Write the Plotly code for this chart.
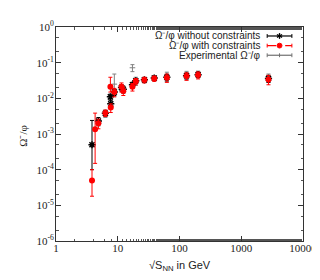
import plotly.graph_objects as go

# ---- data ----
e_black = [3.83, 4.86, 6.3, 7.6, 7.7, 8.8, 11.5, 12.3, 17.3, 19.6, 27, 39, 62.4, 130, 200, 2760]
v_black = [5e-4, 2.3e-3, 3.8e-3, 0.011, 0.007, 0.015, 0.020, 0.018, 0.024, 0.031, 0.033, 0.037, 0.039, 0.043, 0.046, 0.036]
up_black = [1.9e-3, 6e-4, 8e-4, 2e-3, 1.5e-3, 3e-3, 4e-3, 4e-3, 4e-3, 5e-3, 5e-3, 5e-3, 8e-3, 8e-3, 8e-3, 8e-3]
dn_black = [4e-4, 6e-4, 8e-4, 2e-3, 1.5e-3, 3e-3, 4e-3, 4e-3, 4e-3, 5e-3, 5e-3, 5e-3, 8e-3, 8e-3, 8e-3, 8e-3]

e_red = [3.83, 4.3, 4.86, 6.3, 7.6, 7.7, 8.8, 11.5, 12.3, 17.3, 19.6, 27, 39, 62.4, 130, 200, 2760]
v_red = [5e-5, 1.35e-3, 2.0e-3, 3.9e-3, 0.021, 0.0055, 0.015, 0.021, 0.016, 0.021, 0.030, 0.033, 0.036, 0.038, 0.042, 0.045, 0.034]
up_red = [5e-5, 2.5e-3, 6e-4, 8e-4, 0.018, 1.5e-3, 4e-3, 6e-3, 4e-3, 5e-3, 6e-3, 6e-3, 6e-3, 1e-2, 1e-2, 1e-2, 1e-2]
dn_red = [3.2e-5, 1.2e-3, 6e-4, 8e-4, 6e-3, 1.5e-3, 4e-3, 6e-3, 4e-3, 5e-3, 6e-3, 6e-3, 6e-3, 1e-2, 1e-2, 1e-2, 1e-2]

e_exp = [8.8, 17.3, 19.6, 39, 62.4, 130, 200, 2760]
v_exp = [0.025, 0.072, 0.031, 0.037, 0.042, 0.045, 0.048, 0.038]
up_exp = [0.023, 0.016, 8e-3, 6e-3, 1.2e-2, 1.2e-2, 1e-2, 1e-2]
dn_exp = [0.0135, 0.016, 8e-3, 6e-3, 1.2e-2, 1.2e-2, 1e-2, 1e-2]

x_tickvals = [1, 10, 100, 1000, 10000]
x_ticktext = ["1", "10", "100", "1000", "10000"]
y_tickvals = [1e-6, 1e-5, 1e-4, 1e-3, 1e-2, 1e-1, 1]
y_ticktext = ["10<sup>-6</sup>", "10<sup>-5</sup>", "10<sup>-4</sup>", "10<sup>-3</sup>",
              "10<sup>-2</sup>", "10<sup>-1</sup>", "10<sup>0</sup>"]

legend_labels = ["Ω⁻/φ without constraints", "Ω⁻/φ with constraints",
                 "Experimental Ω⁻/φ"]

fig = go.Figure()

fig.add_trace(go.Scatter(
    x=e_exp, y=v_exp, mode="markers",
    marker=dict(symbol="line-ew", size=4, color="#808080", line=dict(color="#808080", width=1)),
    error_y=dict(type="data", symmetric=False, array=up_exp, arrayminus=dn_exp,
                 color="#808080", thickness=1, width=2),
    showlegend=False))

fig.add_trace(go.Scatter(
    x=e_black, y=v_black, mode="markers",
    marker=dict(symbol="asterisk-open", size=6, color="black", line=dict(color="black", width=1.5)),
    error_y=dict(type="data", symmetric=False, array=up_black, arrayminus=dn_black,
                 color="black", thickness=1, width=2),
    showlegend=False))

fig.add_trace(go.Scatter(
    x=e_red, y=v_red, mode="markers",
    marker=dict(symbol="circle", size=6, color="red"),
    error_y=dict(type="data", symmetric=False, array=up_red, arrayminus=dn_red,
                 color="red", thickness=1, width=2),
    showlegend=False))

# custom gnuplot-style legend (text right aligned, sample on the right)
W, H = 251.0, 222.0  # plot area size in px, to convert px offsets to paper units
leg_colors = ["black", "red", "#707070"]
leg_dash = ["solid", "dash", "solid"]
leg_y = [0.958, 0.913, 0.868]
x_txt, x0, x1, xm = 0.832, 0.855, 0.955, 0.905
shapes = []
annotations = []
for lab, col, dsh, yy in zip(legend_labels, leg_colors, leg_dash, leg_y):
    annotations.append(dict(x=x_txt, y=yy, xref="paper", yref="paper", text=lab, showarrow=False,
                            xanchor="right", yanchor="middle",
                            font=dict(family="Liberation Sans", size=10, color="#222")))
    shapes.append(dict(type="line", xref="paper", yref="paper", x0=x0, x1=x1, y0=yy, y1=yy,
                       line=dict(color=col, width=1.2, dash=dsh)))
    for xx in (x0, x1):
        shapes.append(dict(type="line", xref="paper", yref="paper", x0=xx, x1=xx,
                           y0=yy - 2 / H, y1=yy + 2 / H, line=dict(color=col, width=1)))
# markers in the legend samples
r = 2.5
shapes.append(dict(type="circle", xref="paper", yref="paper", x0=xm - r / W, x1=xm + r / W,
                   y0=leg_y[1] - r / H, y1=leg_y[1] + r / H, fillcolor="red", line=dict(color="red", width=1)))
shapes.append(dict(type="line", xref="paper", yref="paper", x0=xm, x1=xm,
                   y0=leg_y[2] - 2 / H, y1=leg_y[2] + 2 / H, line=dict(color="#707070", width=1)))
# asterisk marker for black sample
for dx, dy in [(0, 3), (2.6, 1.5), (2.6, -1.5)]:
    shapes.append(dict(type="line", xref="paper", yref="paper",
                       x0=xm - dx / W, x1=xm + dx / W, y0=leg_y[0] - dy / H, y1=leg_y[0] + dy / H,
                       line=dict(color="black", width=1.3)))

# axis title annotations
annotations.append(dict(x=-0.135, y=0.49, xref="paper", yref="paper", text="Ω⁻/φ",
                        showarrow=False, textangle=-90, xanchor="center", yanchor="middle",
                        font=dict(family="Liberation Serif", size=11, color="#222")))
annotations.append(dict(x=0.5, y=-0.117, xref="paper", yref="paper", text="√S<sub>NN</sub> in GeV",
                        showarrow=False, xanchor="center", yanchor="middle",
                        font=dict(family="Liberation Sans", size=11, color="#222")))

axis_common = dict(showgrid=False, zeroline=False, showline=True, linecolor="#333", linewidth=1,
                   mirror="ticks", ticks="inside", ticklen=5, tickcolor="#333",
                   tickfont=dict(family="Liberation Serif", size=11, color="#222"),
                   minor=dict(ticks="inside", ticklen=2.5, tickcolor="#555", showgrid=False))

fig.update_xaxes(type="log", range=[0, 4], tickvals=x_tickvals, ticktext=x_ticktext,
                 ticklabelstandoff=-3, **axis_common)
fig.update_yaxes(type="log", range=[-6, 0], tickvals=y_tickvals, ticktext=y_ticktext,
                 ticklabelstandoff=-1, **axis_common)

fig.update_layout(
    width=320, height=280,
    margin=dict(l=48, r=21, t=11, b=47),
    paper_bgcolor="white", plot_bgcolor="white",
    shapes=shapes, annotations=annotations,
    showlegend=False,
)

fig.write_html("out.html")
